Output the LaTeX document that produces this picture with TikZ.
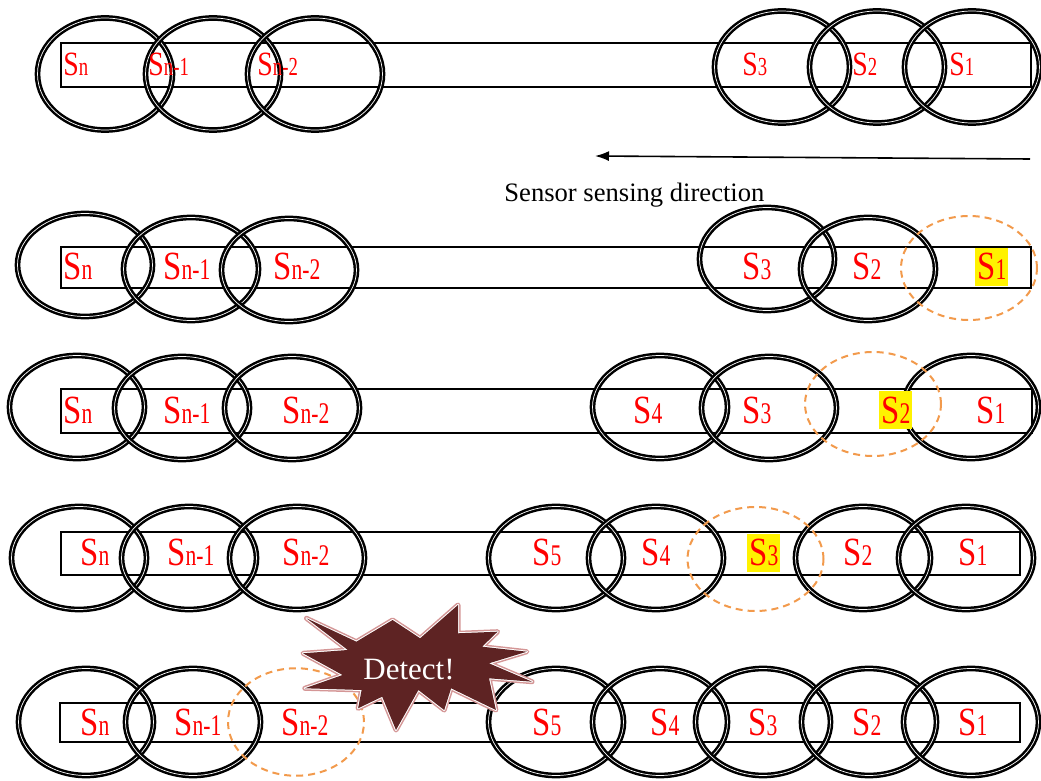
\documentclass[tikz,border=0pt]{standalone}
\usepackage{fontspec}
\setmainfont{Liberation Serif}
\newfontfamily\capfont[FakeStretch=0.82]{Liberation Serif}
\newfontfamily\subfont[FakeStretch=0.72]{Liberation Serif}
\usetikzlibrary{shapes.geometric,arrows.meta}

\definecolor{coverorange}{RGB}{242,154,76}
\definecolor{burstfill}{RGB}{94,35,35}
\definecolor{burstline}{RGB}{212,150,150}

% sensor names: S plus index on the same baseline
\newcommand{\lbl}[3]{{\capfont\fontsize{#1}{#1}\selectfont S}{\subfont\fontsize{#2}{#2}\selectfont #3}}
\newcommand{\topS}[1]{\lbl{17}{13}{#1}}
\newcommand{\rowS}[1]{\lbl{20}{15}{#1}}

\begin{document}
\begin{tikzpicture}[x=0.5pt,y=-0.5pt,
  sensor/.style={draw, ellipse, line width=1.25pt, double=white, double distance=0.35pt,
    minimum width=67.5pt, minimum height=51.5pt, inner sep=0pt},
  coverage/.style={draw=coverorange, ellipse, dash pattern=on 3.5pt off 2.5pt, line width=1pt,
    minimum width=68pt, minimum height=52pt, inner sep=0pt},
  track/.style={draw, line width=1.3pt},
  lab/.style={anchor=base west, inner sep=0pt, text=red},
  hl/.style={lab, fill=yellow, inner xsep=1pt, text height=16pt, text depth=3pt}]
  \useasboundingbox (0,0) rectangle (1041,781);

  % first row
  \draw[track] (61,43) rectangle (1031,87);
  \foreach \x/\y [count=\i] in {105/74, 213/74, 315/74, 782/67, 877/67, 972/67}
    \node[sensor, minimum height=56pt] (a\i) at (\x,\y) {};
  \foreach \x/\s [count=\i] in {63/n, 148/n-1, 257/n-2, 742/3, 852/2, 949/1}
    \node[lab] (la\i) at (\x,76) {\topS{\s}};

  % direction of sensing
  \coordinate (dirstart) at (1030,159);
  \coordinate (dirend) at (595,156);
  \draw[line width=0.8pt, -{Latex[length=7pt,width=5pt]}] (dirstart) -- (dirend);
  \node[anchor=base west, inner sep=0pt, font=\fontsize{13.3}{14}\selectfont] (dirlabel) at (504,202) {Sensor sensing direction};

  % second row
  \draw[track] (61,247) rectangle (1031,288);
  \foreach \x/\y [count=\i] in {85/265, 191/269, 289/270, 767/259, 868/269}
    \node[sensor] (b\i) at (\x,\y) {};
  \node[coverage] (b6) at (969,268) {};
  \foreach \x/\s [count=\i] in {63/n, 163/n-1, 273/n-2, 742/3, 852/2}
    \node[lab] (lb\i) at (\x,280) {\rowS{\s}};
  \node[hl] (lb6) at (975,280) {\rowS{1}};

  % third row
  \draw[track] (61,389) rectangle (1032,433);
  \foreach \x/\y [count=\i] in {77/407, 182/408, 292/408, 660/407, 769/408, 971/407}
    \node[sensor] (c\i) at (\x,\y) {};
  \node[coverage] (c7) at (873,404) {};
  \foreach \x/\s [count=\i] in {63/n, 163/n-1, 282/n-2, 633/4, 742/3, 976/1}
    \node[lab] (lc\i) at (\x,423) {\rowS{\s}};
  \node[hl] (lc7) at (879,423) {\rowS{2}};

  % fourth row
  \draw[track] (61,532) rectangle (1020,575);
  \foreach \x [count=\i] in {79, 189, 297, 556, 656, 863, 966}
    \node[sensor] (d\i) at (\x,558) {};
  \node[coverage] (d8) at (755.5,559) {};
  \foreach \x/\s [count=\i] in {80/n, 167/n-1, 282/n-2, 532/5, 641/4, 843/2, 958/1}
    \node[lab] (ld\i) at (\x,566) {\rowS{\s}};
  \node[hl] (ld8) at (747,566) {\rowS{3}};

  % fifth row
  \draw[track] (60,703) rectangle (1020,742);
  \foreach \x [count=\i] in {86, 193, 556, 660, 763, 869, 971}
    \node[sensor, minimum height=53.5pt] (e\i) at (\x,722) {};
  \node[coverage, minimum height=53.75pt] (e8) at (296,722) {};
  \foreach \x/\s [count=\i] in {80/n, 174/n-1, 281/n-2, 532/5, 650/4, 748/3, 852/2, 958/1}
    \node[lab] (le\i) at (\x,735) {\rowS{\s}};

  % burst over the detecting sensor
  \path[fill=burstfill, line join=round,
    preaction={draw=burstline, line width=2.5pt, line join=round},
    preaction={draw=white, line width=1pt, line join=round}]
    (306.5,618.3) -- (356.4,641.7) -- (392.6,620) -- (420.1,638.3) -- (458,605)
    -- (458,633.3) -- (497.6,631.7) -- (482.1,646.7) -- (526.9,651.7) -- (489,663.3)
    -- (532,681.7) -- (489,678.3) -- (495.9,710) -- (451.1,688.3) -- (444.2,710)
    -- (418.4,690) -- (396,730) -- (382.2,696.7) -- (358.1,708.3) -- (361.6,690)
    -- (304.8,688.3) -- (342.6,675) -- (303,653.3) -- (347.8,650) -- cycle;
  \node[text=white, inner sep=0pt, font=\fontsize{15.5}{16}\selectfont] (detect) at (409,670) {Detect!};
\end{tikzpicture}
\end{document}
